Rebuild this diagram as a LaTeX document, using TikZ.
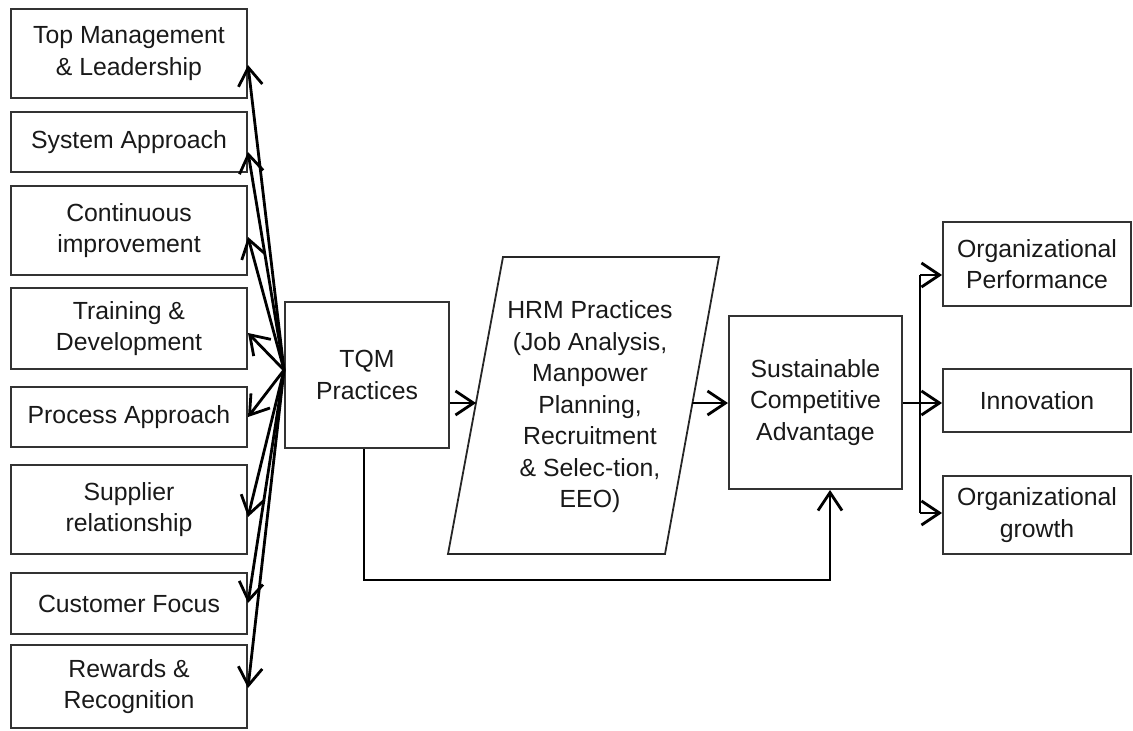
\documentclass[tikz,border=0pt]{standalone}
\usepackage{fontspec}
\setmainfont{Liberation Sans}
\usetikzlibrary{arrows.meta}
\begin{document}
\begin{tikzpicture}[x=1pt,y=-1pt,
  txt/.style={align=center, font=\fontsize{24.8}{31.5}\selectfont, inner sep=0pt, text=black!90},
  box/.style={txt, draw=black!80, line width=2pt},
  arr/.style={line width=2.8pt, -{Straight Barb[length=18pt,width=24pt]}},
  conn/.style={line width=2.8pt}]
\useasboundingbox (0,0) rectangle (1133,731);
% left boxes
\node[box, minimum width=236pt, minimum height=89pt] (tm) at (129,53.5) {Top Management\\\& Leadership};
\node[box, minimum width=236pt, minimum height=60pt] (sa) at (129,142) {System Approach};
\node[box, minimum width=236pt, minimum height=89pt] (ci) at (129,230.5) {Continuous\\improvement};
\node[box, minimum width=236pt, minimum height=81pt] (td) at (129,328.5) {Training \&\\Development};
\node[box, minimum width=236pt, minimum height=60pt] (pa) at (129,417) {Process Approach};
\node[box, minimum width=236pt, minimum height=89pt] (sr) at (129,509.5) {Supplier\\relationship};
\node[box, minimum width=236pt, minimum height=61pt] (cf) at (129,603.5) {Customer Focus};
\node[box, minimum width=236pt, minimum height=83pt] (rr) at (129,686.5) {Rewards \&\\Recognition};
% TQM
\node[box, minimum width=164pt, minimum height=146pt] (tqm) at (367,375) {TQM\\Practices};
% HRM parallelogram
\draw[line width=1.8pt, draw=black!85] (503,257) -- (719,257) -- (665,554) -- (448,554) -- cycle;
\node[txt] (hrm) at (590,407) {HRM Practices\\(Job Analysis,\\Manpower\\Planning,\\Recruitment\\\& Selec-tion,\\EEO)};
% SCA
\node[box, minimum width=173pt, minimum height=173pt] (sca) at (815.5,402.5) {Sustainable\\Competitive\\Advantage};
% right boxes
\node[box, minimum width=188pt, minimum height=84pt] (op) at (1037,264) {Organizational\\Performance};
\node[box, minimum width=188pt, minimum height=63pt] (inn) at (1037,400.5) {Innovation};
\node[box, minimum width=188pt, minimum height=78pt] (og) at (1037,515) {Organizational\\growth};
% fan
\coordinate (fan) at (284,370);
\foreach \n/\y in {tm/65, sa/152, ci/237, td/333, pa/417, sr/517, cf/603, rr/688}
  \draw[arr] (fan) -- (\n.east |- 0,\y);
% TQM -> HRM -> SCA
\coordinate (hrmin) at (476,403);
\coordinate (hrmout) at (692,403);
\draw[arr] (tqm.east |- hrmin) -- (hrmin);
\draw[arr] (hrmout) -- (sca.west |- hrmout);
% bottom connector
\coordinate (b1) at (364,580);
\coordinate (b2) at (830,580);
\draw[arr] (tqm.south -| b1) -- (b1) -- (b2) -- (sca.south -| b2);
% right bus
\coordinate (bus) at (920,403);
\coordinate (busT) at (920,275);
\coordinate (busB) at (920,513);
\draw[conn] (busT) -- (busB);
\draw[arr] (sca.east |- bus) -- (inn.west |- bus);
\draw[arr] (busT) -- (op.west |- busT);
\draw[arr] (busB) -- (og.west |- busB);
\end{tikzpicture}
\end{document}
